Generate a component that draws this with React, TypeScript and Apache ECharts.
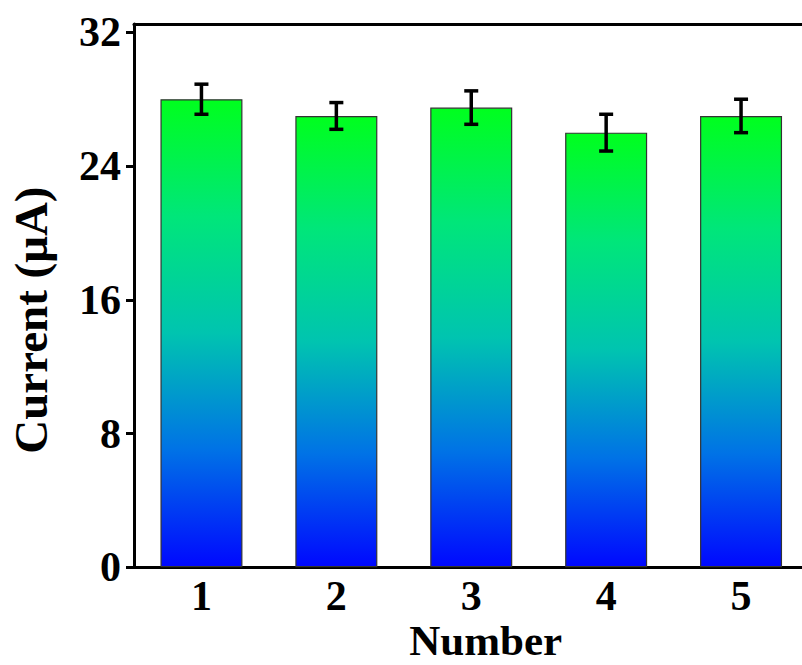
import React, { useEffect, useRef } from "react";
import * as echarts from "echarts";

const categories = ["1", "2", "3", "4", "5"];
const currents = [28.0, 27.0, 27.5, 26.0, 27.0];
const errors = [0.9, 0.8, 1.0, 1.1, 1.0];
const yMajorTicks = [0, 8, 16, 24, 32];
const yMinorTicks = [4, 12, 20, 28];

const FONT = "'Liberation Serif', 'Times New Roman', serif";

export default function App() {
  const ref = useRef<HTMLDivElement>(null);
  useEffect(() => {
    document.body.style.margin = "0";
    const chart = echarts.init(ref.current!, null, { renderer: "svg" });
    const gradient = new echarts.graphic.LinearGradient(0, 0, 0, 1, [
      { offset: 0, color: "#00ff1e" },
      { offset: 0.25, color: "#00e67a" },
      { offset: 0.5, color: "#00c4b0" },
      { offset: 0.75, color: "#0072e6" },
      { offset: 1, color: "#0008ff" },
    ]);
    const errData = currents.map((v, i) => [i, v - errors[i], v + errors[i]]);
    const labelStyle = {
      fontFamily: FONT,
      fontWeight: "bold" as const,
      fontSize: 42,
      color: "#000",
    };
    chart.setOption({
      animation: false,
      grid: { left: 134, right: -6.5, top: 24, bottom: 97.7, containLabel: false, outerBoundsMode: "none" },
      xAxis: [
        {
          type: "category",
          data: categories,
          position: "bottom",
          axisLine: { lineStyle: { color: "#000", width: 3 } },
          axisTick: { alignWithLabel: true, length: 10, lineStyle: { color: "#000", width: 3 } },
          axisLabel: { ...labelStyle, margin: 8 },
          name: "Number",
          nameLocation: "middle",
          nameGap: 52,
          nameMoveOverlap: false,
          nameTextStyle: { ...labelStyle, fontSize: 43, lineHeight: 43, padding: [0, 0, 0, 29] },
        },
        {
          type: "category",
          data: categories,
          position: "bottom",
          axisLine: { show: false },
          axisTick: { alignWithLabel: false, length: 5, lineStyle: { color: "#000", width: 3 } },
          axisLabel: { show: false },
        },
        {
          type: "category",
          data: categories,
          position: "top",
          axisLine: { lineStyle: { color: "#000", width: 3 } },
          axisTick: { show: false },
          axisLabel: { show: false },
        },
      ],
      yAxis: [
        {
          type: "value",
          min: 0,
          max: 32.5,
          interval: 8,
          splitLine: { show: false },
          axisLine: { show: true, lineStyle: { color: "#000", width: 3 } },
          axisTick: { show: true, length: 8, customValues: yMajorTicks, lineStyle: { color: "#000", width: 3 } },
          axisLabel: { ...labelStyle, margin: 13, customValues: yMajorTicks },
          name: "Current (\u03bcA)",
          nameLocation: "middle",
          nameGap: 80,
          nameMoveOverlap: false,
          nameTextStyle: { ...labelStyle, fontSize: 47, padding: [0, 49, 0, 0] },
        },
        {
          type: "value",
          min: 0,
          max: 32.5,
          interval: 8,
          splitLine: { show: false },
          axisLine: { show: false },
          axisTick: { show: true, length: 4, customValues: yMinorTicks, lineStyle: { color: "#000", width: 3 } },
          axisLabel: { show: false },
        },
      ],
      series: [
        {
          type: "bar",
          data: currents,
          barWidth: 82,
          itemStyle: { color: gradient, borderColor: "#333", borderWidth: 1.2 },
          z: 2,
        },
        {
          type: "custom",
          data: errData,
          z: 5,
          renderItem: (params: any, api: any) => {
            const x = api.value(0);
            const lo = api.coord([x, api.value(1)]);
            const hi = api.coord([x, api.value(2)]);
            const cw = 7;
            const style = { stroke: "#000", lineWidth: 3.5 };
            return {
              type: "group",
              children: [
                { type: "line", shape: { x1: hi[0], y1: hi[1], x2: lo[0], y2: lo[1] }, style },
                { type: "line", shape: { x1: hi[0] - cw, y1: hi[1], x2: hi[0] + cw, y2: hi[1] }, style },
                { type: "line", shape: { x1: lo[0] - cw, y1: lo[1], x2: lo[0] + cw, y2: lo[1] }, style },
              ],
            };
          },
        },
      ],
    });
    return () => chart.dispose();
  }, []);
  return <div ref={ref} style={{ position: "absolute", left: 0, top: 0, width: 802, height: 665 }} />;
}
